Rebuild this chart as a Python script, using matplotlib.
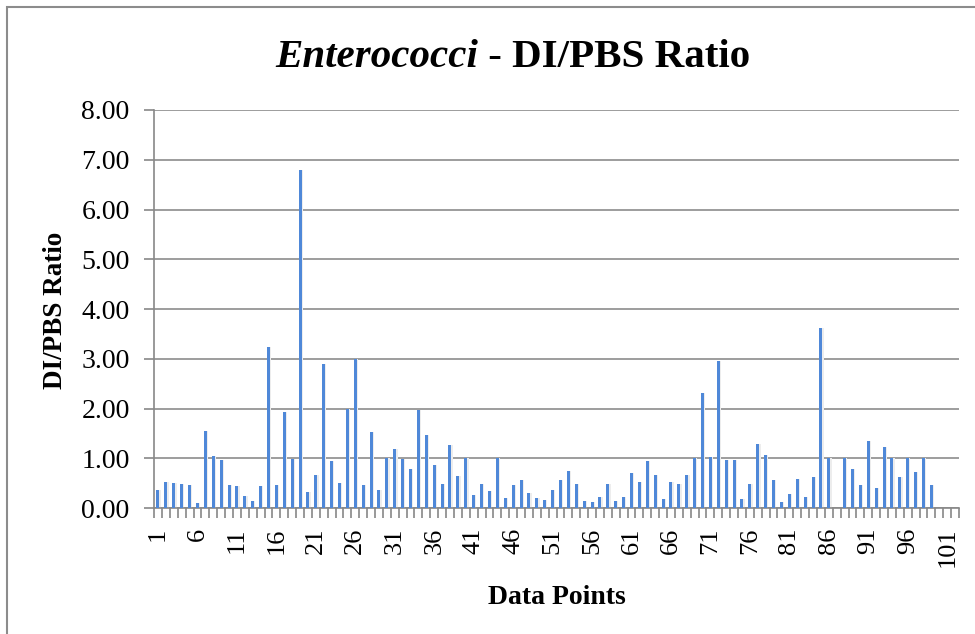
import numpy as np
import matplotlib
matplotlib.use('Agg')
import matplotlib.pyplot as plt
from matplotlib.patches import Rectangle

# ========== DATA ==========

points = list(range(1, 103))
ratios = [
    0.37, 0.53, 0.50, 0.49, 0.47, 0.11, 1.55, 1.04, 0.96, 0.47,
    0.45, 0.24, 0.15, 0.44, 3.24, 0.46, 1.92, 0.99, 6.80, 0.32,
    0.66, 2.89, 0.95, 0.50, 1.99, 2.99, 0.47, 1.53, 0.37, 1.00,
    1.19, 0.98, 0.78, 1.97, 1.47, 0.87, 0.49, 1.26, 0.64, 1.00,
    0.26, 0.49, 0.34, 1.00, 0.21, 0.47, 0.57, 0.30, 0.20, 0.17,
    0.36, 0.57, 0.74, 0.49, 0.15, 0.12, 0.22, 0.49, 0.14, 0.22,
    0.70, 0.53, 0.95, 0.66, 0.18, 0.53, 0.49, 0.66, 1.00, 2.31,
    1.02, 2.95, 0.97, 0.97, 0.18, 0.49, 1.28, 1.07, 0.57, 0.12,
    0.29, 0.59, 0.22, 0.63, 3.62, 1.00, 0.00, 1.00, 0.79, 0.47,
    1.34, 0.41, 1.22, 1.00, 0.63, 1.00, 0.72, 1.00, 0.47, 0.00,
    0.00, 0.00,
]
y_ticks = [0, 1, 2, 3, 4, 5, 6, 7, 8]
x_label_points = list(range(1, 102, 5))

# ========== PLOT ==========

plt.rcParams['font.family'] = ['Liberation Serif', 'DejaVu Serif']

fig = plt.figure(figsize=(9.75, 6.34), dpi=100)
ax = fig.add_axes([0.158, 0.1987, 0.8256, 0.6278])

# soft shadow behind each bar, then the bars
ax.bar(np.array(points) + 0.12, ratios, width=0.46, color='#ededed', zorder=2)
ax.bar(points, ratios, width=0.38, color='#4F88D8', zorder=3)

ax.set_xlim(0.5, len(points) + 0.5)
ax.set_ylim(0, 8)
ax.set_yticks(y_ticks)
ax.set_yticklabels([f'{v:.2f}' for v in y_ticks], fontsize=20)
ax.set_xticks(x_label_points)
ax.set_xticklabels([str(p) for p in x_label_points], rotation=90, fontsize=19)
ax.set_xticks(np.arange(0.5, len(points) + 1, 1), minor=True)
ax.tick_params(axis='x', which='major', length=0, pad=14)
ax.tick_params(axis='x', which='minor', length=7, color='#888888', width=1.2)
ax.tick_params(axis='y', length=7, color='#888888', width=1.2, pad=10.5)

ax.grid(True, axis='y', color='#8c8c8c', linewidth=1.2, zorder=0)
for side in ['top', 'right']:
    ax.spines[side].set_visible(False)
for side in ['left', 'bottom']:
    ax.spines[side].set_color('#888888')
    ax.spines[side].set_linewidth(1.2)

ax.set_xlabel('Data Points', fontsize=20, fontweight='bold')
ax.xaxis.set_label_coords(0.5006, -0.1935)
ax.set_ylabel('DI/PBS Ratio', fontsize=19.5, fontweight='bold')
ax.yaxis.set_label_coords(-0.107, 0.4975)

fig.text(0.490, 0.910, 'Enterococci', fontsize=29.5, fontweight='bold',
         fontstyle='italic', ha='right', va='center')
fig.text(0.490, 0.910, ' - DI/PBS Ratio', fontsize=29.5, fontweight='bold',
         ha='left', va='center')

fig.patches.append(Rectangle((0.0075, -0.05), 1.1, 1.0382, transform=fig.transFigure,
                             fill=False, edgecolor='#8c8c8c', linewidth=1.5))

plt.savefig('out.png', dpi=100)
plt.close(fig)
